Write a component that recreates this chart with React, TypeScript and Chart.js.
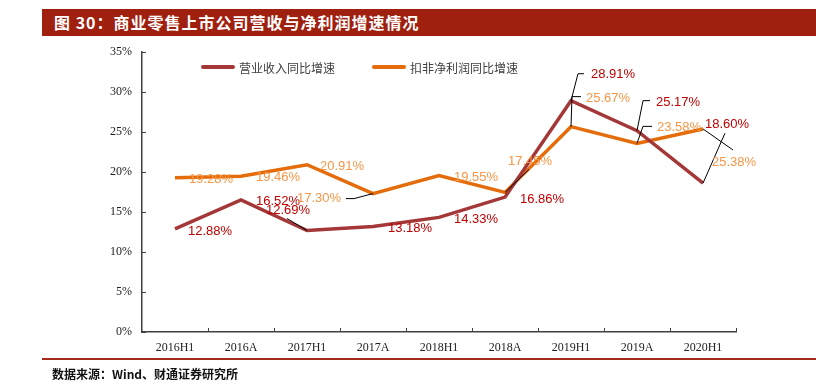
import React, { useEffect, useRef } from "react";
import { Chart, registerables } from "chart.js";

Chart.register(...registerables);

// ---- data ----
const categories = ["2016H1", "2016A", "2017H1", "2017A", "2018H1", "2018A", "2019H1", "2019A", "2020H1"];
const revenueGrowth = [12.88, 16.52, 12.69, 13.18, 14.33, 16.86, 28.91, 25.17, 18.6];
const netProfitGrowth = [19.28, 19.46, 20.91, 17.3, 19.55, 17.45, 25.67, 23.58, 25.38];
const yTickValues = [0, 5, 10, 15, 20, 25, 30, 35];
const seriesNames = ["营业收入同比增速", "扣非净利润同比增速"];
const titleText = "图 30：商业零售上市公司营收与净利润增速情况";
const sourceText = "数据来源：Wind、财通证券研究所";

// ---- styles ----
const revenueColor = "#A43838";
const netColor = "#E46C0A";
const revenueLabelColor = "#C00000";
const netLabelColor = "#F79646";
const axisColor = "#404040";

// label placement (text left-middle offset from point) and leader lines
const revLabelOffsets: [number, number][] = [[13, 2], [15, 2], [-41, -20], [15, 2], [15, 2], [15, 2], [20, -26], [19, -28], [2, -59]];
const revLeaders: ([number, number][] | null)[] = [null, null, [[-20, -12]], null, null, null, [[7, -27], [13, -27]], [[6, -30], [13, -30]], [[22, -50]]];
const netLabelOffsets: [number, number][] = [[14, 2], [15, 1], [13, 2], [-76, 5], [15, 2], [3, -31], [15, -28], [20, -16], [9, 33]];
const netLeaders: ([number, number][] | null)[] = [null, null, null, [[-19, 5], [-27, 5]], null, [[24, -23]], [[1, -30], [10, -30]], [[6, -17], [15, -17]], [[30, 21]]];

const annotatePlugin = {
  id: "annotate",
  afterDatasetsDraw(chart: any) {
    const ctx = chart.ctx as CanvasRenderingContext2D;
    const xs = chart.scales.x;
    const ys = chart.scales.y;
    ctx.save();
    // inward tick marks
    ctx.strokeStyle = axisColor;
    ctx.lineWidth = 1;
    const n = categories.length;
    for (let i = 1; i <= n; i++) {
      const px = Math.round(xs.left + ((xs.right - xs.left) * i) / n) + 0.5;
      ctx.beginPath();
      ctx.moveTo(px, ys.bottom);
      ctx.lineTo(px, ys.bottom - 4);
      ctx.stroke();
    }
    for (const v of yTickValues) {
      const py = Math.round(ys.getPixelForValue(v)) + 0.5;
      ctx.beginPath();
      ctx.moveTo(xs.left, py);
      ctx.lineTo(xs.left + 4, py);
      ctx.stroke();
    }
    // data labels with leader lines
    const cfg = [
      { values: revenueGrowth, offsets: revLabelOffsets, leaders: revLeaders, color: revenueLabelColor },
      { values: netProfitGrowth, offsets: netLabelOffsets, leaders: netLeaders, color: netLabelColor },
    ];
    ctx.font = "13px 'Liberation Sans', Arial, sans-serif";
    ctx.textAlign = "left";
    ctx.textBaseline = "middle";
    cfg.forEach((c, si) => {
      const meta = chart.getDatasetMeta(si);
      meta.data.forEach((pt: any, i: number) => {
        const x = pt.x;
        const y = pt.y;
        const lead = c.leaders[i];
        if (lead) {
          ctx.strokeStyle = "#000";
          ctx.lineWidth = 1;
          ctx.beginPath();
          ctx.moveTo(x, y);
          lead.forEach(([dx, dy]) => ctx.lineTo(x + dx, y + dy));
          ctx.stroke();
        }
        const [ox, oy] = c.offsets[i];
        ctx.fillStyle = c.color;
        ctx.fillText(c.values[i].toFixed(2) + "%", x + ox, y + oy);
      });
    });
    // legend
    const legendY = ys.top + 15;
    const items = [
      { x: xs.left + 60, color: revenueColor, text: seriesNames[0] },
      { x: xs.left + 231, color: netColor, text: seriesNames[1] },
    ];
    ctx.font = "12px 'Noto Sans CJK SC', sans-serif";
    ctx.lineCap = "round";
    items.forEach((it) => {
      ctx.strokeStyle = it.color;
      ctx.lineWidth = 4;
      ctx.beginPath();
      ctx.moveTo(it.x + 1, legendY);
      ctx.lineTo(it.x + 31, legendY);
      ctx.stroke();
      ctx.fillStyle = "#404040";
      ctx.fillText(it.text, it.x + 37, legendY + 1);
    });
    ctx.restore();
  },
};

function ChartCanvas() {
  const ref = useRef<HTMLCanvasElement | null>(null);
  useEffect(() => {
    if (!ref.current) return;
    const chart = new Chart(ref.current, {
      type: "line",
      data: {
        labels: categories,
        datasets: [
          {
            label: seriesNames[0],
            data: revenueGrowth,
            borderColor: revenueColor,
            backgroundColor: revenueColor,
            borderWidth: 3.5,
            pointRadius: 0,
            tension: 0,
          },
          {
            label: seriesNames[1],
            data: netProfitGrowth,
            borderColor: netColor,
            backgroundColor: netColor,
            borderWidth: 3.5,
            pointRadius: 0,
            tension: 0,
          },
        ],
      },
      options: {
        animation: false,
        responsive: false,
        maintainAspectRatio: false,
        layout: { padding: { top: 52, right: 80, bottom: 0, left: 0 } },
        plugins: { legend: { display: false }, tooltip: { enabled: false } },
        scales: {
          x: {
            type: "category",
            offset: true,
            grid: { display: true, drawOnChartArea: false, drawTicks: false, offset: true, color: "rgba(0,0,0,0)" },
            border: { display: true, color: axisColor, width: 1.5 },
            ticks: { color: "#222", font: { family: "'Liberation Serif', serif", size: 12 }, padding: 9, maxRotation: 0, autoSkip: false },
            afterFit: (s: any) => { s.height = 57; },
          },
          y: {
            min: 0,
            max: 35,
            ticks: {
              stepSize: 5,
              color: "#222",
              font: { family: "'Liberation Serif', serif", size: 12 },
              padding: 10,
              callback: (v: any) => v + "%",
            },
            grid: { display: true, drawOnChartArea: false, drawTicks: false, color: "rgba(0,0,0,0)" },
            border: { display: true, color: axisColor, width: 1.5 },
            afterFit: (s: any) => { s.width = 142; },
          },
        },
      },
      plugins: [annotatePlugin],
    });
    return () => chart.destroy();
  }, []);
  return <canvas ref={ref} width={816} height={389} style={{ position: "absolute", left: 0, top: 0, width: 816, height: 389 }} />;
}

export default function App() {
  return (
    <div style={{ position: "fixed", left: 0, top: 0, width: 816, height: 389, background: "#fff", overflow: "hidden" }}>
      <ChartCanvas />
      <div
        style={{
          position: "absolute",
          left: 42,
          top: 9,
          width: 774,
          height: 27,
          background: "#A0200F",
          color: "#fff",
          fontFamily: "'Noto Sans CJK SC', sans-serif",
          fontWeight: 700,
          fontSize: 16,
          letterSpacing: 1,
          lineHeight: "27px",
          paddingLeft: 12,
          boxSizing: "border-box",
          whiteSpace: "nowrap",
        }}
      >
        {titleText}
      </div>
      <div style={{ position: "absolute", left: 42, top: 358, width: 774, height: 1.5, background: "#A52A1A" }} />
      <div
        style={{
          position: "absolute",
          left: 52,
          top: 366,
          fontFamily: "'Noto Sans CJK SC', sans-serif",
          fontWeight: 700,
          fontSize: 12,
          lineHeight: "16px",
          color: "#111",
          whiteSpace: "nowrap",
        }}
      >
        {sourceText}
      </div>
    </div>
  );
}
